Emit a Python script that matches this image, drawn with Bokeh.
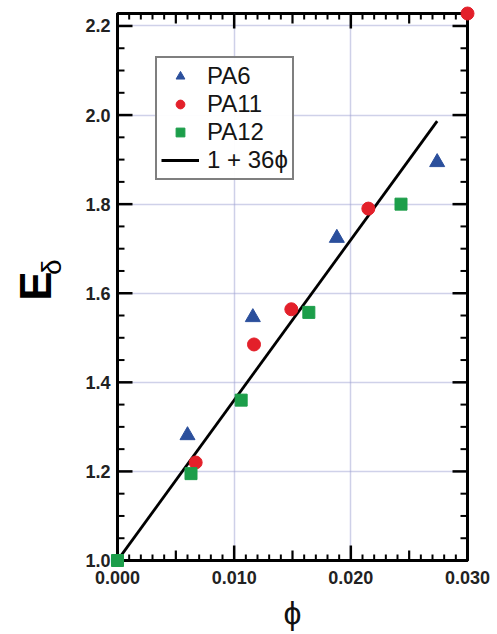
import numpy as np
from math import pi
from bokeh.plotting import figure
from bokeh.layouts import row
from bokeh.core.properties import value
from bokeh.models import FixedTicker, Range1d, Legend, LegendItem
from bokeh.embed import file_html
from bokeh.resources import INLINE

# ---- data ----
pa6_phi = [0.0060, 0.0116, 0.0188, 0.0274]
pa6_E = [1.281, 1.546, 1.724, 1.894]

pa11_phi = [0.0067, 0.0117, 0.0149, 0.0215, 0.0300]
pa11_E = [1.220, 1.485, 1.564, 1.790, 2.228]

pa12_phi = [0.0000, 0.0063, 0.0106, 0.0164, 0.0243]
pa12_E = [1.000, 1.195, 1.360, 1.557, 1.800]

fit_phi = [0.0, 0.0274]
fit_E = [1 + 36 * f for f in fit_phi]

x_ticks = [0.000, 0.010, 0.020, 0.030]
x_tick_labels = ["0.000", "0.010", "0.020", "0.030"]
x_mid_ticks = [0.005, 0.015, 0.025]
y_ticks = [1.0, 1.2, 1.4, 1.6, 1.8, 2.0, 2.2]
y_tick_labels = ["1.0", "1.2", "1.4", "1.6", "1.8", "2.0", "2.2"]
x_minor = [round(v, 4) for v in np.arange(0.0, 0.0301, 0.001)]
y_minor = [round(v, 3) for v in np.arange(1.0, 2.229, 0.05)]

X_START, X_END = 0.0, 0.030
Y_START, Y_END = 1.0, 2.228

FONT = "Liberation Sans"
BLUE = "#2b4f9c"
RED = "#e3202a"
GREEN = "#1c9e4a"
TICK = "black"

LABEL_W = 70
W, H = 497, 634
BORDER_L, BORDER_R, BORDER_T, BORDER_B = 117, 30, 13, 74
FRAME_W = W - BORDER_L - BORDER_R
FRAME_H = H - BORDER_T - BORDER_B

# ---------- narrow figure carrying the y-axis title E_delta ----------
lab = figure(width=LABEL_W, height=H, output_backend="svg", toolbar_location=None,
             x_range=Range1d(0, LABEL_W), y_range=Range1d(0, H),
             x_axis_type=None, y_axis_type=None, min_border=0)
lab.outline_line_color = None
lab.grid.visible = False
lab.text(x=[35], y=[318], text=["E"], angle=pi / 2,
         text_font=value(FONT), text_font_size="44px", text_font_style="bold",
         text_align="center", text_baseline="middle", text_color="black")
lab.text(x=[51], y=[340], text=["\u03b4"], angle=pi / 2,
         text_font=value(FONT), text_font_size="28px",
         text_align="center", text_baseline="middle", text_color="black")

# ---------- main plot ----------
p = figure(width=W - LABEL_W, height=H, output_backend="svg", toolbar_location=None,
           x_range=Range1d(X_START, X_END), y_range=Range1d(Y_START, Y_END),
           min_border_left=BORDER_L - LABEL_W, min_border_right=BORDER_R,
           min_border_top=BORDER_T, min_border_bottom=BORDER_B)
p.outline_line_color = "black"
p.outline_line_width = 3
p.outline_line_alpha = 1

for ax, ticks, labels in ((p.xaxis[0], x_ticks, x_tick_labels),
                          (p.yaxis[0], y_ticks, y_tick_labels)):
    ax.ticker = FixedTicker(ticks=ticks)
    ax.major_label_overrides = {t: l for t, l in zip(ticks, labels)}
    ax.axis_line_width = 3
    ax.axis_line_color = "black"
    ax.major_tick_line_color = None
    ax.minor_tick_line_color = None
    ax.major_tick_in = 0
    ax.major_tick_out = 0
    ax.major_label_text_font = FONT
    ax.major_label_text_font_style = "bold"
    ax.major_label_text_font_size = "18px"
    ax.major_label_text_color = "#222222"
p.xaxis[0].major_label_standoff = 10
p.yaxis[0].major_label_standoff = 7

p.xaxis[0].axis_label = "\u03d5"
p.xaxis[0].axis_label_text_font = FONT
p.xaxis[0].axis_label_text_font_size = "32px"
p.xaxis[0].axis_label_text_font_style = "normal"
p.xaxis[0].axis_label_text_color = "#111111"
p.xaxis[0].axis_label_standoff = 8

# grid
p.xgrid.ticker = FixedTicker(ticks=x_ticks[1:-1])
p.ygrid.ticker = FixedTicker(ticks=y_ticks[1:])
for g in (p.xgrid, p.ygrid):
    g.grid_line_color = "#9ea2d2"
    g.grid_line_dash = "1 1"
    g.grid_line_width = 1.5

# inward tick marks on all four sides, drawn as thin filled bars (sizes in pixels)
px_x = (X_END - X_START) / FRAME_W
px_y = (Y_END - Y_START) / FRAME_H
x_small = [t for t in x_minor if all(abs(t - m) > 1e-9 for m in x_ticks + x_mid_ticks)]
y_small = [t for t in y_minor if all(abs(t - m) > 1e-9 for m in y_ticks)]
for tk, ln, lw in ((x_ticks, 15, 2.5), (x_mid_ticks, 10, 2.2), (x_small, 6, 2.0)):
    n = len(tk)
    for edge, sgn in ((Y_START, 1), (Y_END, -1)):
        p.rect(x=tk, y=[edge + sgn * ln / 2 * px_y] * n, width=lw, height=ln,
               width_units="screen", height_units="screen",
               fill_color=TICK, line_color=None, level="overlay")
for tk, ln, lw in ((y_ticks, 15, 2.5), (y_small, 7, 2.0)):
    n = len(tk)
    for edge, sgn in ((X_START, 1), (X_END, -1)):
        p.rect(x=[edge + sgn * ln / 2 * px_x] * n, y=tk, width=ln, height=lw,
               width_units="screen", height_units="screen",
               fill_color=TICK, line_color=None, level="overlay")

fit = p.line(fit_phi, fit_E, line_color="black", line_width=2.8)
r6 = p.scatter(pa6_phi, pa6_E, marker="triangle", size=15, fill_color=BLUE,
               line_color=BLUE, level="overlay")
r11 = p.scatter(pa11_phi, pa11_E, marker="circle", size=13, fill_color=RED,
                line_color=RED, level="overlay")
r12 = p.scatter(pa12_phi, pa12_E, marker="square", size=12, fill_color=GREEN,
                line_color=GREEN, level="overlay")

legend = Legend(items=[LegendItem(label="PA6", renderers=[r6]),
                       LegendItem(label="PA11", renderers=[r11]),
                       LegendItem(label="PA12", renderers=[r12]),
                       LegendItem(label="1 + 36\u03d5", renderers=[fit])],
                location=(38, 380))
legend.label_text_font = FONT
legend.label_text_font_size = "24px"
legend.label_text_color = "#151515"
legend.glyph_width = 38
legend.glyph_height = 22
legend.label_height = 22
legend.label_standoff = 8
legend.spacing = 0
legend.padding = 4
legend.margin = 0
legend.border_line_color = "black"
legend.border_line_width = 2
p.add_layout(legend, "center")

layout = row(lab, p, spacing=0)
open("out.html", "w").write(file_html(layout, INLINE))
